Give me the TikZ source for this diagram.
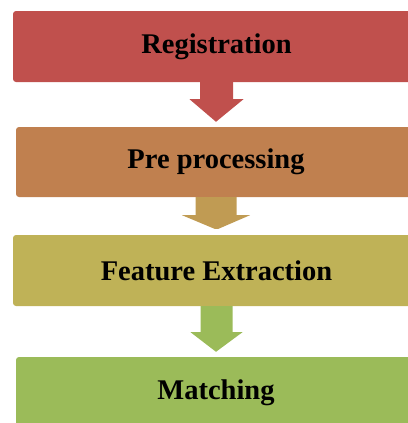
\documentclass[tikz,border=0pt]{standalone}
\usepackage{fontspec}
\setmainfont{Liberation Serif}
\usetikzlibrary{positioning,calc}
\definecolor{regred}{HTML}{C0504D}
\definecolor{preorange}{HTML}{C0804F}
\definecolor{arrowtan}{HTML}{C09B53}
\definecolor{featolive}{HTML}{BFB257}
\definecolor{matchgreen}{HTML}{9BBB59}

\begin{document}
\begin{tikzpicture}[x=1pt,y=1pt,
  stage/.style={rectangle,rounded corners=3pt,minimum width=407pt,minimum height=71pt,
    inner sep=0pt,text=black,font=\fontsize{28.5}{34}\selectfont\bfseries},
  flow/.style={draw=none}]
  \useasboundingbox (0,0) rectangle (407,-423);

  % stages
  \node[stage,fill=regred] (reg) at (216.5,-46.5) {Registration};
  \node[stage,fill=preorange,minimum width=400pt,minimum height=70pt] (pre) at (216,-162) {Pre processing};
  \node[stage,fill=featolive] (feat) at (216.5,-270.5) {Feature Extraction};
  \node[stage,fill=matchgreen,minimum width=400pt] (match) at (216,-392.5) {Matching};

  % block arrows between stages
  \fill[flow,regred] ($(reg.south)+(-16.5,0)$) -- ($(reg.south)+(16.5,0)$)
    -- ($(reg.south)+(16.5,-17)$) -- ($(reg.south)+(27,-17)$)
    -- ($(pre.north)+(0,5)$)
    -- ($(reg.south)+(-27,-17)$) -- ($(reg.south)+(-16.5,-17)$) -- cycle;
  \fill[flow,arrowtan] ($(pre.south)+(-20.5,0)$) -- ($(pre.south)+(20.5,0)$)
    -- ($(pre.south)+(20.5,-18)$) -- ($(pre.south)+(34,-18)$)
    -- ($(feat.north)+(2,6)$) -- ($(feat.north)+(-2,6)$)
    -- ($(pre.south)+(-34,-18)$) -- ($(pre.south)+(-20.5,-18)$) -- cycle;
  \fill[flow,matchgreen] ($(feat.south)+(-16,0)$) -- ($(feat.south)+(16,0)$)
    -- ($(feat.south)+(16,-26)$) -- ($(feat.south)+(26,-26)$)
    -- ($(match.north)+(0,5)$)
    -- ($(feat.south)+(-26,-26)$) -- ($(feat.south)+(-16,-26)$) -- cycle;
\end{tikzpicture}
\end{document}
